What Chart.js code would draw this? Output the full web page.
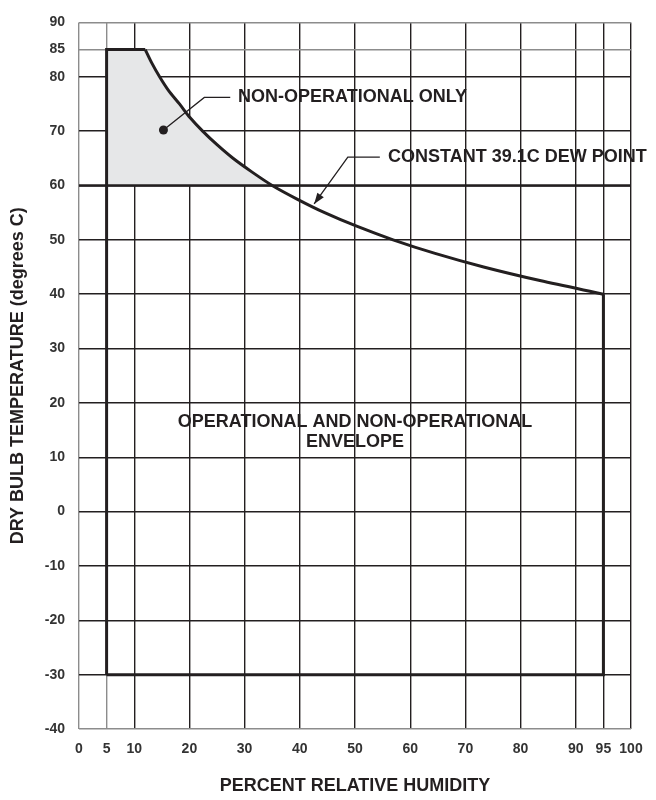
<!DOCTYPE html>
<html>
<head>
<meta charset="utf-8">
<script src="https://cdn.jsdelivr.net/npm/chart.js@4.4.1/dist/chart.umd.min.js"></script>
<style>
  html, body { margin: 0; padding: 0; background: #fff; }
  #wrap { width: 656px; height: 800px; position: relative; }
</style>
</head>
<body>
<div id="wrap"><canvas id="envChart"></canvas></div>
<script>
// 軸の目盛り
const xTicks = [0, 5, 10, 20, 30, 40, 50, 60, 70, 80, 90, 95, 100];
const yTicks = [-40, -30, -20, -10, 0, 10, 20, 30, 40, 50, 60, 70, 80, 85, 90];

// 露点 39.1C 一定の曲線
const curveRH = [12, 13.2, 14.6, 16.2, 18.2, 20.1, 22.4, 25, 27.9, 31.3, 35, 39.5, 44.5, 50.3, 56.9, 64.5, 73.3, 83.5, 95];
const curveTemp = [85, 82.5, 80, 77.5, 75, 72.5, 70, 67.5, 65, 62.5, 60, 57.5, 55, 52.5, 50, 47.5, 45, 42.5, 40];

// 動作範囲の枠（左辺＋上辺、右辺＋下辺）
const envLeftRH = [5, 5, 12];
const envLeftTemp = [-30, 85, 85];
const envRightRH = [95, 95, 5];
const envRightTemp = [40, -30, -30];

// 非動作のみの領域（グレー）
const shadeRH = [5, 12, 13.2, 14.6, 16.2, 18.2, 20.1, 22.4, 25, 27.9, 31.3, 35];
const shadeTemp = [85, 85, 82.5, 80, 77.5, 75, 72.5, 70, 67.5, 65, 62.5, 60];

// 60C の線
const limitRH = [0, 100];
const limitTemp = [60, 60];

// 引き出し線
const nonOpLeaderRH = [15.3, 22.7, 27.4];
const nonOpLeaderTemp = [70.2, 76.2, 76.2];
const dewLeaderRH = [54.5, 48.7, 42.6];
const dewLeaderTemp = [65.2, 65.2, 56.6];

const INK = "#231f20";
const GREY_LINE = "#8c8c8c";
const FONT = '"Liberation Sans", Arial, sans-serif';

const toPoints = (xs, ys) => xs.map((x, i) => ({ x, y: ys[i] }));

const lineSet = (xs, ys, width, extra = {}) => ({
  data: toPoints(xs, ys),
  showLine: true,
  borderColor: INK,
  borderWidth: width,
  pointRadius: 0,
  fill: false,
  tension: 0,
  ...extra,
});

// 注記テキストと矢印
const notesPlugin = {
  id: "notes",
  afterDatasetsDraw(chart) {
    const { ctx, scales: { x, y } } = chart;
    ctx.save();
    ctx.fillStyle = INK;
    ctx.font = `bold 18px ${FONT}`;
    ctx.textBaseline = "middle";

    ctx.textAlign = "left";
    ctx.fillText("NON-OPERATIONAL ONLY", x.getPixelForValue(28.8), y.getPixelForValue(76.2));
    ctx.fillText("CONSTANT 39.1C DEW POINT", x.getPixelForValue(56), y.getPixelForValue(65.2));

    ctx.textAlign = "center";
    ctx.fillText("OPERATIONAL AND NON-OPERATIONAL", x.getPixelForValue(50), y.getPixelForValue(16.4));
    ctx.fillText("ENVELOPE", x.getPixelForValue(50), y.getPixelForValue(12.8));

    // 矢印の先
    const n = dewLeaderRH.length;
    const tx = x.getPixelForValue(dewLeaderRH[n - 1]);
    const ty = y.getPixelForValue(dewLeaderTemp[n - 1]);
    const fx = x.getPixelForValue(dewLeaderRH[n - 2]);
    const fy = y.getPixelForValue(dewLeaderTemp[n - 2]);
    const ang = Math.atan2(ty - fy, tx - fx);
    const len = 11, half = 4;
    ctx.beginPath();
    ctx.moveTo(tx, ty);
    ctx.lineTo(tx - len * Math.cos(ang) + half * Math.sin(ang), ty - len * Math.sin(ang) - half * Math.cos(ang));
    ctx.lineTo(tx - len * Math.cos(ang) - half * Math.sin(ang), ty - len * Math.sin(ang) + half * Math.cos(ang));
    ctx.closePath();
    ctx.fill();
    ctx.restore();
  },
};

const chartConfig = {
  type: "scatter",
  data: {
    datasets: [
      lineSet(curveRH, curveTemp, 3, { tension: 0.3 }),
      lineSet(envLeftRH, envLeftTemp, 3),
      lineSet(envRightRH, envRightTemp, 3),
      lineSet(limitRH, limitTemp, 2.4),
      lineSet(nonOpLeaderRH, nonOpLeaderTemp, 1.3, {
        pointRadius: (c) => (c.dataIndex === 0 ? 4.5 : 0),
        pointBackgroundColor: INK,
        pointBorderWidth: 0,
      }),
      lineSet(dewLeaderRH, dewLeaderTemp, 1.3),
      {
        data: toPoints(shadeRH, shadeTemp),
        showLine: true,
        borderWidth: 0,
        pointRadius: 0,
        tension: 0,
        backgroundColor: "#e6e7e8",
        fill: { value: 60 },
        order: 5,
      },
    ],
  },
  options: {
    responsive: true,
    maintainAspectRatio: false,
    animation: false,
    layout: { padding: { top: 10, right: 25, bottom: 0, left: 0 } },
    plugins: {
      legend: { display: false },
      tooltip: { enabled: false },
    },
    scales: {
      x: {
        type: "linear",
        min: 0,
        max: 100,
        afterBuildTicks: (s) => { s.ticks = xTicks.map((v) => ({ value: v })); },
        afterFit: (s) => { s.height = 71; },
        border: { display: false },
        grid: {
          drawTicks: false,
          lineWidth: 1.4,
          color: (c) => (c.tick && (c.tick.value === 0 || c.tick.value === 5) ? GREY_LINE : INK),
        },
        ticks: {
          padding: 12,
          color: "#333",
          autoSkip: false,
          maxRotation: 0,
          font: { family: FONT, size: 14, weight: "bold" },
        },
        title: {
          display: true,
          text: "PERCENT RELATIVE HUMIDITY",
          color: INK,
          padding: { top: 0, bottom: 3 },
          font: { family: FONT, size: 18, weight: "bold" },
        },
      },
      y: {
        type: "linear",
        min: -40,
        max: 90,
        afterBuildTicks: (s) => { s.ticks = yTicks.map((v) => ({ value: v })); },
        afterFit: (s) => { s.width = 79; },
        border: { display: false },
        grid: {
          drawTicks: false,
          lineWidth: 1.4,
          color: (c) => (c.tick && [-40, 85, 90].includes(c.tick.value) ? GREY_LINE : INK),
        },
        ticks: {
          padding: 14,
          color: "#333",
          autoSkip: false,
          font: { family: FONT, size: 14, weight: "bold" },
        },
        title: {
          display: true,
          text: "DRY BULB TEMPERATURE (degrees C)",
          color: INK,
          padding: { top: 7, bottom: 0 },
          font: { family: FONT, size: 18, weight: "bold" },
        },
      },
    },
  },
  plugins: [notesPlugin],
};

const initChart = () => {
  const canvas = document.getElementById("envChart");
  if (!canvas) return;
  new Chart(canvas, chartConfig);
};

if (document.readyState === "loading") {
  document.addEventListener("DOMContentLoaded", initChart);
} else {
  initChart();
}
</script>
</body>
</html>
